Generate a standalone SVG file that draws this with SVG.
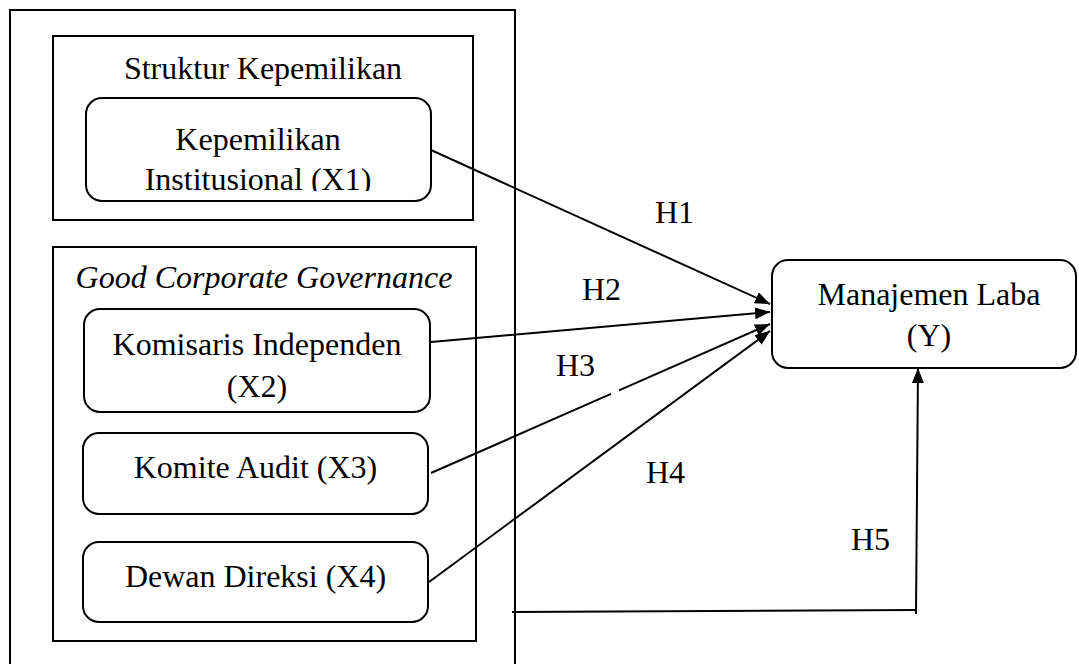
<svg xmlns="http://www.w3.org/2000/svg" width="1079" height="664" viewBox="0 0 1079 664">
  <style>
    .frame { fill: none; stroke: #000; stroke-width: 2; }
    .node { fill: #fff; stroke: #000; stroke-width: 2; }
    text { font-family: 'Liberation Serif', 'Times New Roman', 'DejaVu Serif', serif; font-size: 32px; fill: #000; }
    .t { text-anchor: middle; }
    .it { font-style: italic; }
    .conn { fill: none; stroke: #000; stroke-width: 2; }
  </style>
  <defs>
    <marker id="arrow" markerUnits="userSpaceOnUse" markerWidth="16" markerHeight="14" refX="15" refY="6" orient="auto">
      <path d="M0,0 L15,6 L0,12 Z" fill="#000"/>
    </marker>
    <clipPath id="clipX1">
      <rect x="86" y="98" width="345" height="93"/>
    </clipPath>
  </defs>
  <rect id="background" x="0" y="0" width="1079" height="664" fill="#fff"/>

  <g id="outer-frame">
    <rect class="frame" x="10" y="10" width="505" height="680"/>
  </g>

  <g id="group-struktur">
    <rect class="frame" x="53" y="36" width="420" height="184"/>
    <text class="t" x="263" y="79" font-family="Liberation Serif, serif">Struktur Kepemilikan</text>
  </g>

  <g id="group-gcg">
    <rect class="frame" x="53" y="247" width="423" height="394"/>
    <text class="t it" x="264" y="288" font-family="Liberation Serif, serif">Good Corporate Governance</text>
  </g>

  <g id="node-x1">
    <rect class="node" x="86" y="98" width="345" height="103" rx="16" ry="16"/>
    <g clip-path="url(#clipX1)">
      <text class="t" x="258" y="150" font-family="Liberation Serif, serif">Kepemilikan</text>
      <text class="t" x="258" y="190" font-family="Liberation Serif, serif">Institusional (X1)</text>
    </g>
  </g>

  <g id="node-x2">
    <rect class="node" x="84" y="309" width="346" height="103" rx="16" ry="16"/>
    <text class="t" x="257" y="355" font-family="Liberation Serif, serif">Komisaris Independen</text>
    <text class="t" x="257" y="397" font-family="Liberation Serif, serif">(X2)</text>
  </g>

  <g id="node-x3">
    <rect class="node" x="83" y="433" width="345" height="81" rx="16" ry="16"/>
    <text class="t" x="255.5" y="478" font-family="Liberation Serif, serif">Komite Audit (X3)</text>
  </g>

  <g id="node-x4">
    <rect class="node" x="83" y="542" width="345" height="80" rx="16" ry="16"/>
    <text class="t" x="255.5" y="587" font-family="Liberation Serif, serif">Dewan Direksi (X4)</text>
  </g>

  <g id="node-y">
    <rect class="node" x="772" y="260" width="304" height="108" rx="16" ry="16"/>
    <text class="t" x="929" y="305" font-family="Liberation Serif, serif">Manajemen Laba</text>
    <text class="t" x="929" y="346" font-family="Liberation Serif, serif">(Y)</text>
  </g>

  <g id="connectors">
    <line class="conn" x1="431" y1="150" x2="770" y2="304" marker-end="url(#arrow)"/>
    <line class="conn" x1="431" y1="342" x2="770" y2="312" marker-end="url(#arrow)"/>
    <line class="conn" x1="431" y1="473" x2="611" y2="393.9"/>
    <line class="conn" x1="619" y1="390.4" x2="770" y2="324" marker-end="url(#arrow)"/>
    <line class="conn" x1="429" y1="582" x2="770" y2="331" marker-end="url(#arrow)"/>
    <line class="conn" x1="512" y1="612" x2="917" y2="610"/>
    <line class="conn" x1="916" y1="614" x2="918" y2="368" marker-end="url(#arrow)"/>
    <text x="655" y="223" font-family="Liberation Serif, serif">H1</text>
    <text x="582" y="300" font-family="Liberation Serif, serif">H2</text>
    <text x="556" y="376" font-family="Liberation Serif, serif">H3</text>
    <text x="646" y="483" font-family="Liberation Serif, serif">H4</text>
    <text x="851" y="550" font-family="Liberation Serif, serif">H5</text>
  </g>
</svg>
